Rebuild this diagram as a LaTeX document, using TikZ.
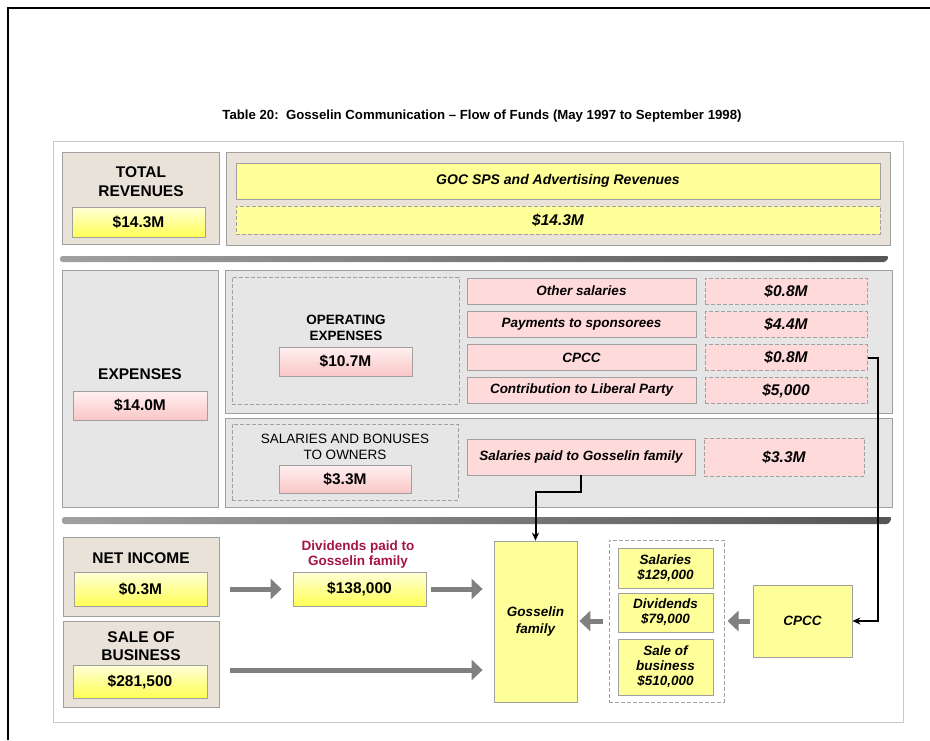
\documentclass[tikz,border=0pt]{standalone}
\usepackage{fontspec}
\setmainfont{Liberation Sans}
\usepackage{tikz}
\usetikzlibrary{arrows,arrows.meta,shapes,positioning}
\usepackage{xcolor}
\definecolor{gcbeige}{RGB}{232,226,216}
\definecolor{gcgrey}{RGB}{230,230,230}
\definecolor{gcyellow}{RGB}{255,255,153}
\definecolor{gcyellowlight}{RGB}{255,255,215}
\definecolor{gcyellowdark}{RGB}{255,255,85}
\definecolor{gcpink}{RGB}{255,218,218}
\definecolor{gcpinklight}{RGB}{255,240,240}
\definecolor{gcpinkdark}{RGB}{250,198,198}
\definecolor{gcborder}{RGB}{160,160,160}
\definecolor{gcframe}{RGB}{200,200,200}
\definecolor{gcarrow}{RGB}{128,128,128}
\definecolor{gcsepleft}{RGB}{160,160,160}
\definecolor{gcsepright}{RGB}{85,85,85}
\definecolor{gcred}{RGB}{165,20,70}
\tikzstyle{panel} = [rectangle, draw=gcborder, fill=gcbeige, line width=0.8pt, inner sep=0pt]
\tikzstyle{greypanel} = [panel, fill=gcgrey]
\tikzstyle{dashbox} = [rectangle, draw=gcborder, dash pattern=on 4pt off 2pt, line width=1pt, inner sep=0pt]
\tikzstyle{ybox} = [rectangle, draw=gcborder, fill=gcyellow, line width=0.8pt, inner sep=0pt, align=center, font=\fontsize{13.5}{15}\selectfont\bfseries\itshape]
\tikzstyle{pbox} = [ybox, fill=gcpink]
\tikzstyle{ydash} = [dashbox, fill=gcyellow, font=\fontsize{15.5}{18}\selectfont\bfseries\itshape]
\tikzstyle{pdash} = [dashbox, fill=gcpink, font=\fontsize{15.5}{18}\selectfont\bfseries\itshape]
\tikzstyle{yvalue} = [rectangle, draw=gcborder, top color=gcyellowlight, bottom color=gcyellowdark, line width=0.8pt, inner sep=0pt, font=\fontsize{15.5}{18}\selectfont\bfseries]
\tikzstyle{pvalue} = [yvalue, top color=gcpinklight, bottom color=gcpinkdark]
\tikzstyle{heading} = [align=center, inner sep=0pt, font=\fontsize{15.5}{19}\selectfont\bfseries]
\tikzstyle{subheading} = [align=center, inner sep=0pt, font=\fontsize{13.5}{16}\selectfont\bfseries]
\tikzstyle{flow} = [line width=5pt, color=gcarrow, -{Triangle[length=11pt,width=20pt]}]
\tikzstyle{link} = [line width=2pt, -{Stealth[length=8pt,width=7pt]}, color=black]

\begin{document}
\begin{tikzpicture}[x=1pt, y=-1pt]
\useasboundingbox (0,0) rectangle (930,740);
% page edge and title
\draw[line width=2.5pt] (8,740) -- (8,8) -- (930,8);
\node (title) [font=\fontsize{13.2}{15}\selectfont\bfseries] at (482,116) {Table 20:\ \ Gosselin Communication – Flow of Funds (May 1997 to September 1998)};
\node (frame) [rectangle, draw=gcframe, line width=1pt, inner sep=0pt, minimum width=850pt, minimum height=581pt] at (478,431.5) {};

% Revenues
\node (rev) [panel, minimum width=157pt, minimum height=92pt] at (140.5,198) {};
\node (revtext) [heading] at (141,181.5) {TOTAL\\REVENUES};
\node (revval) [yvalue, minimum width=133pt, minimum height=30pt] at (138.5,222) {\$14.3M};
\node (revsrc) [panel, minimum width=664pt, minimum height=93pt] at (558,198.5) {};
\node (goc) [ybox, minimum width=644pt, minimum height=36pt, font=\fontsize{14}{16}\selectfont\bfseries\itshape] at (558,181) {GOC SPS and Advertising Revenues};
\node (gocval) [ydash, minimum width=644pt, minimum height=28pt] at (558,220) {\$14.3M};

\shade[left color=gcsepleft, right color=gcsepright, rounded corners=2.5pt] (60,262) -- (60,256) -- (889,256) -- (886,262) -- cycle;

% Expenses
\node (exp) [greypanel, minimum width=156pt, minimum height=237pt] at (140,388.5) {};
\node (exptext) [heading] at (140,374) {EXPENSES};
\node (expval) [pvalue, minimum width=134pt, minimum height=29pt] at (140,405.5) {\$14.0M};

% Operating expenses
\node (opex) [greypanel, minimum width=667pt, minimum height=143pt] at (558.5,341.5) {};
\node (opexgrp) [dashbox, minimum width=227pt, minimum height=127pt] at (345.5,340.5) {};
\node (opextext) [subheading] at (346,327.5) {OPERATING\\EXPENSES};
\node (opexval) [pvalue, minimum width=133pt, minimum height=29pt] at (345.5,361.5) {\$10.7M};
\node (other) [pbox, minimum width=229pt, minimum height=26pt] at (581.5,291) {Other salaries};
\node (otherval) [pdash, minimum width=162pt, minimum height=26pt] at (786,291) {\$0.8M};
\node (spons) [pbox, minimum width=229pt, minimum height=26pt] at (581.5,324.5) {Payments to sponsorees};
\node (sponsval) [pdash, minimum width=162pt, minimum height=26pt] at (786,324.5) {\$4.4M};
\node (cpcc) [pbox, minimum width=229pt, minimum height=26pt] at (581.5,357.5) {CPCC};
\node (cpccval) [pdash, minimum width=162pt, minimum height=26pt] at (786,357.5) {\$0.8M};
\node (lib) [pbox, minimum width=229pt, minimum height=26pt] at (581.5,390.5) {Contribution to Liberal Party};
\node (libval) [pdash, minimum width=162pt, minimum height=26pt] at (786,390.5) {\$5,000};

% Salaries to owners
\node (own) [greypanel, minimum width=667pt, minimum height=89pt] at (558.5,462.5) {};
\node (owngrp) [dashbox, minimum width=226pt, minimum height=76pt] at (345,462) {};
\node (owntext) [subheading, font=\fontsize{13.5}{16}\selectfont] at (345,446.5) {SALARIES AND BONUSES\\TO OWNERS};
\node (ownval) [pvalue, minimum width=132pt, minimum height=28pt] at (345,479) {\$3.3M};
\node (salpaid) [pbox, minimum width=228pt, minimum height=36pt] at (581,457) {Salaries paid to Gosselin family};
\node (salpaidval) [pdash, minimum width=160pt, minimum height=38pt] at (784,457) {\$3.3M};

\shade[left color=gcsepleft, right color=gcsepright, rounded corners=2.5pt] (62,524) -- (62,517) -- (892,517) -- (889,524) -- cycle;

% Net income and sale
\node (ni) [panel, minimum width=156pt, minimum height=79pt] at (141,576.5) {};
\node (nitext) [heading] at (141,558) {NET INCOME};
\node (nival) [yvalue, minimum width=133pt, minimum height=34pt] at (140.5,589) {\$0.3M};
\node (sale) [panel, minimum width=156pt, minimum height=86pt] at (141,664) {};
\node (saletext) [heading, font=\fontsize{15.5}{18}\selectfont\bfseries] at (141,646) {SALE OF\\BUSINESS};
\node (saleval) [yvalue, minimum width=134pt, minimum height=33pt] at (140,681.5) {\$281,500};
\node (divtext) [subheading, font=\fontsize{13.5}{15}\selectfont\bfseries, text=gcred] at (358,554) {Dividends paid to\\Gosselin family};
\node (divval) [yvalue, minimum width=133pt, minimum height=34pt] at (359.5,589) {\$138,000};

% Gosselin family and CPCC
\node (gfam) [ybox, minimum width=83pt, minimum height=161pt, font=\fontsize{13.5}{17}\selectfont\bfseries\itshape] at (535.5,621.5) {Gosselin\\family};
\node (grp) [dashbox, minimum width=115pt, minimum height=162pt] at (666.5,621) {};
\node (grpsal) [ybox, minimum width=95pt, minimum height=40pt] at (665.5,568) {Salaries\\\$129,000};
\node (grpdiv) [ybox, minimum width=95pt, minimum height=39pt] at (665.5,612.5) {Dividends\\\$79,000};
\node (grpsale) [ybox, minimum width=95pt, minimum height=56pt] at (665.5,667) {Sale of\\business\\\$510,000};
\node (cpccco) [ybox, minimum width=99pt, minimum height=72pt] at (802.5,621) {CPCC};

% Flows
\draw[flow, shorten <=11pt, shorten >=11pt] (ni.east |- nival) -- (divval.west);
\draw[flow, shorten <=5pt, shorten >=11pt] (divval.east) -- (divval.east -| gfam.west);
\draw[flow, shorten <=11pt, shorten >=11pt] ([yshift=-6pt]sale.east) -- ([yshift=-6pt]sale.east -| gfam.west);
\draw[flow, shorten <=6pt, shorten >=2pt] (grp.west) -- (grp.west -| gfam.east);
\draw[flow, shorten <=3pt, shorten >=3pt] (cpccco.west) -- (grp.east);
\draw[link] (salpaid.south) -- ++(0,17) -| (gfam.north);
\draw[link] (cpccval.east) -- ++(10,0) |- (cpccco.east);
\end{tikzpicture}
\end{document}
